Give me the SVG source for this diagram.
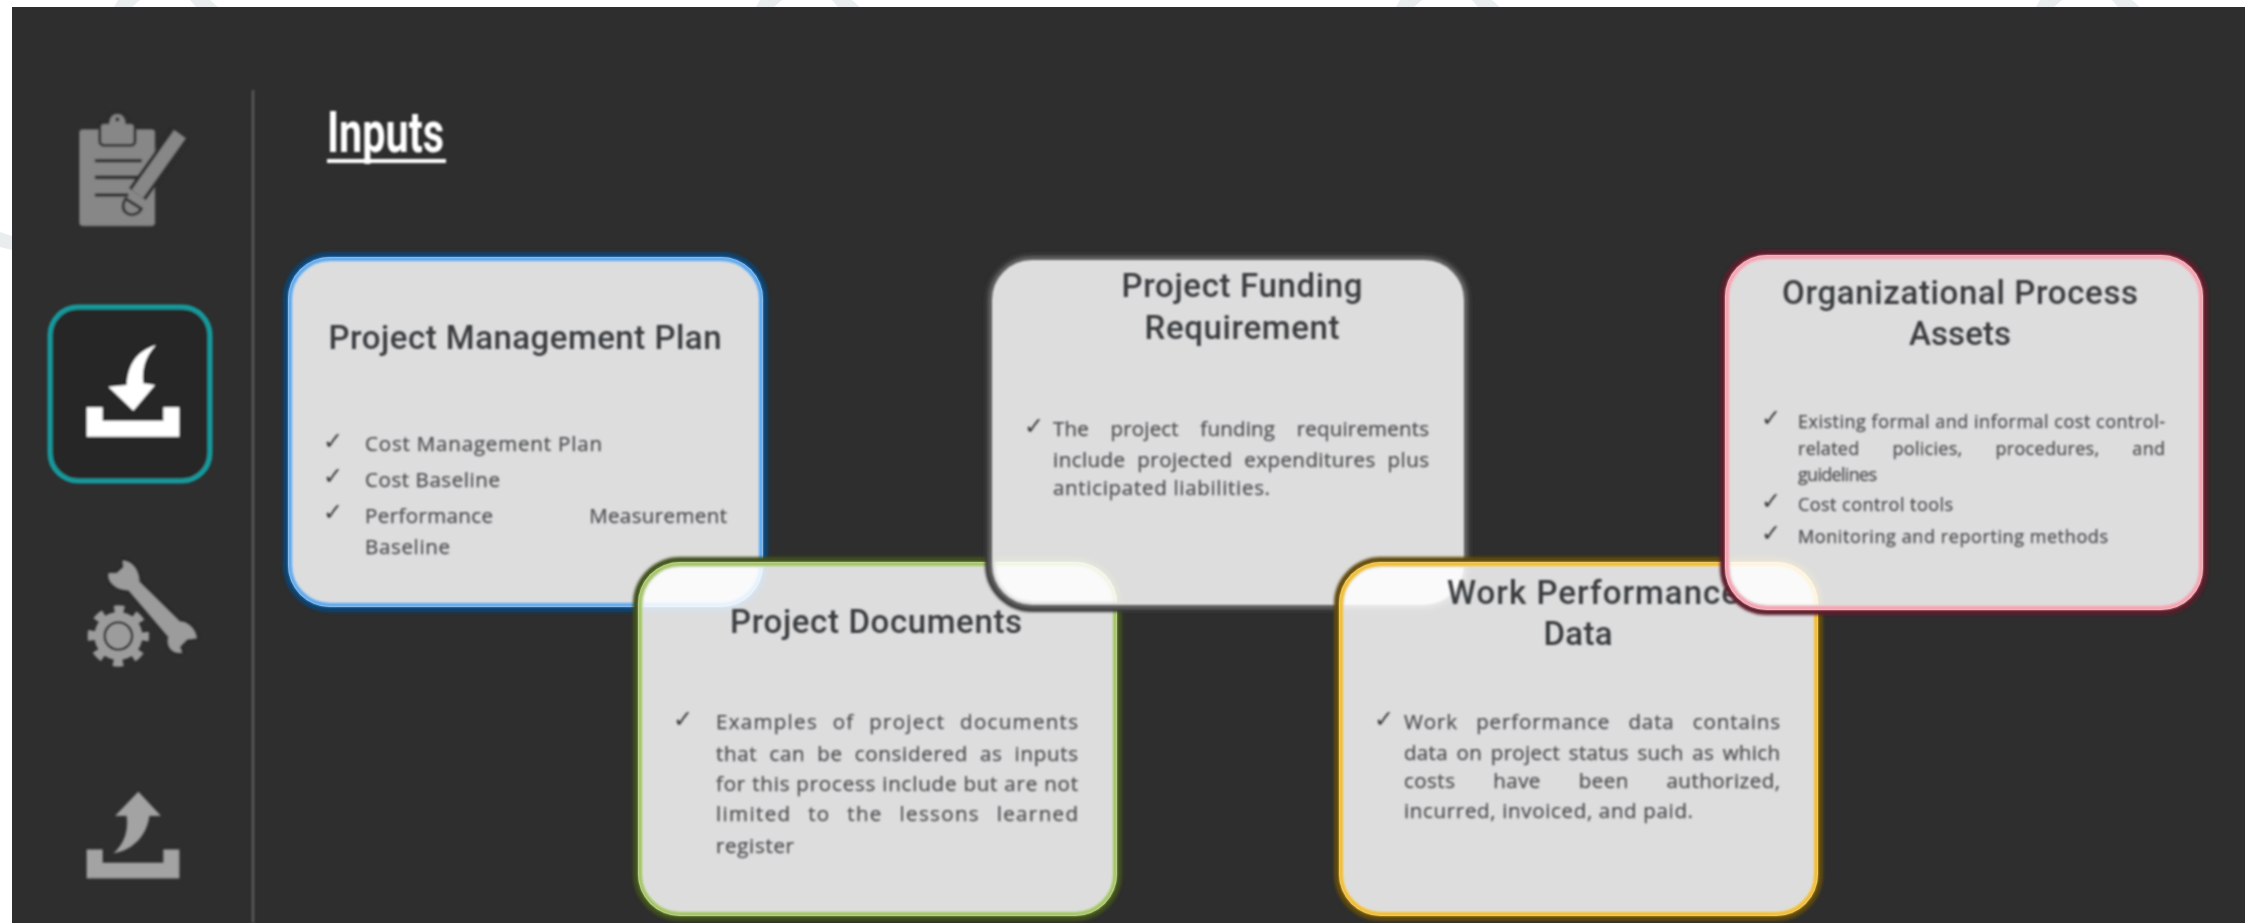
<svg xmlns="http://www.w3.org/2000/svg" width="2252" height="923" viewBox="0 0 2252 923">
<defs>
<filter id="soft" x="-5%" y="-5%" width="110%" height="110%"><feGaussianBlur stdDeviation="0.9"/></filter>
<filter id="glow" x="-5%" y="-5%" width="110%" height="110%"><feGaussianBlur stdDeviation="1.8"/></filter>
<style>
.card{fill:#fff;fill-opacity:.84}
.rim{fill:none;stroke-width:10}
.line{fill:none;stroke-width:4}
.t{font-family:Roboto,"Liberation Sans",sans-serif;font-weight:500;font-size:33px;fill:#3b3d40;text-anchor:middle}
.b{font-family:"Open Sans","Liberation Sans",sans-serif;font-size:20.5px;fill:#4b4d50;stroke:#4b4d50;stroke-width:.25}
.s{font-size:18px}
.c{font-family:"DejaVu Sans",sans-serif;font-size:24px;fill:#3a3a3a}
.g{fill:#878787}
.h{fill:#9c9c9c}
</style>
</defs>
<rect width="2252" height="923" fill="#fff"/>
<g fill="#e9eded" id="watermark">
<path d="M118 0h22l-8 7h-18zM190 0h20l8 7h-22zM760 0h22l-8 7h-18zM832 0h20l8 7h-22zM1400 0h22l-8 7h-18zM1472 0h20l8 7h-22zM2040 0h22l-8 7h-18zM2112 0h20l8 7h-22zM0 232l12 4v14l-12-3z"/>
</g>
<rect id="background" x="12" y="7" width="2233" height="916" fill="#2e2e2e"/>
<g filter="url(#soft)">
<line id="divider" x1="253" y1="90" x2="253" y2="923" stroke="#5a5a5a" stroke-width="2.5"/>

<g id="icon-plan" transform="translate(60 100) scale(.3333)">
<rect class="g" x="58" y="88" width="227" height="290" rx="10"/>
<path d="M105 182h140M105 232h130M105 285h100" stroke="#2e2e2e" stroke-width="10" fill="none"/>
<path d="M132 68h12C146 48 158 38 172 38S198 48 200 68h12a13 13 0 0 1 13 13v42a13 13 0 0 1-13 13H132a13 13 0 0 1-13-13V81a13 13 0 0 1 13-13z" fill="#878787" stroke="#2e2e2e" stroke-width="8"/>
<circle cx="172" cy="58" r="6" fill="#2e2e2e"/>
<path d="M360 102L232 282" stroke="#2e2e2e" stroke-width="62" fill="none"/>
<path d="M360 102L232 282" stroke="#878787" stroke-width="42" fill="none"/>
<path d="M197 296L244 326C236 344 210 350 196 336C186 326 188 308 197 296Z" fill="#878787" stroke="#2e2e2e" stroke-width="8"/>
</g>

<g id="icon-inputs">
<rect x="50" y="307" width="160" height="174" rx="28" fill="#272727" stroke="#179a9c" stroke-width="5"/>
<g transform="translate(60 320) scale(.3333)" fill="#fff">
<path d="M80 262h48v40h182v-40h48v88H80z"/>
<path d="M288 75C230 95 205 130 200 195L145 200L220 272L285 195L250 190C245 150 255 110 288 75Z"/>
</g>
</g>

<g id="icon-tools" transform="translate(60 540) scale(.3333)">
<circle class="h" cx="175" cy="288" r="72"/>
<circle cx="175" cy="288" r="80" fill="none" stroke="#9c9c9c" stroke-width="24" stroke-dasharray="30 32.83" stroke-dashoffset="15"/>
<circle cx="175" cy="288" r="41" fill="none" stroke="#2e2e2e" stroke-width="7"/>
<path d="M188 62C215 62 238 90 238 125L360 245C385 245 408 268 410 295L382 298L360 320L366 338C335 342 318 318 325 290L205 150C170 152 140 125 146 100L170 100L190 82Z" fill="#9c9c9c" stroke="#2e2e2e" stroke-width="10" paint-order="stroke"/>
</g>

<g id="icon-outputs" transform="translate(60 770) scale(.3333)" fill="#a3a3a3">
<path d="M80 238h48v40h182v-40h48v87H80z"/>
<path d="M235 65L303 138H268C262 190 225 240 160 250C195 220 205 180 200 138H165Z"/>
</g>

<text id="heading" x="327" y="152" font-family="Roboto,'Liberation Sans',sans-serif" font-weight="700" font-size="58" fill="#fff" textLength="117" lengthAdjust="spacingAndGlyphs">Inputs</text>
<rect x="327" y="159" width="119" height="4" fill="#fff"/>
</g>

<g id="node-pmp">
<rect class="rim" x="288" y="257" width="475" height="350" rx="42" stroke="#0f4370" filter="url(#glow)"/>
<rect class="card" x="288" y="257" width="475" height="350" rx="42"/>
<rect class="line" x="290" y="259" width="471" height="346" rx="40" stroke="#5da8ee" filter="url(#soft)"/>
<g filter="url(#soft)">
<text class="t" x="525" y="349" textLength="393">Project Management Plan</text>
<text class="c" x="323" y="449">✓</text><text class="c" x="323" y="484">✓</text><text class="c" x="323" y="520">✓</text>
<text class="b" x="365" y="451" textLength="237">Cost Management Plan</text>
<text class="b" x="365" y="487" textLength="135">Cost Baseline</text>
<text class="b" x="365" y="523" word-spacing="90" textLength="362">Performance Measurement</text>
<text class="b" x="365" y="554" textLength="85">Baseline</text>
</g>
</g>

<g id="node-documents">
<rect class="rim" x="638" y="562" width="479" height="354" rx="42" stroke="#41501f" filter="url(#glow)"/>
<rect class="card" x="638" y="562" width="479" height="354" rx="42"/>
<rect class="line" x="640" y="564" width="475" height="350" rx="40" stroke="#a3c562" filter="url(#soft)"/>
<g filter="url(#soft)">
<text class="t" x="876" y="633" textLength="292">Project Documents</text>
<text class="c" x="673" y="727">✓</text>
<text class="b" x="716" y="729" word-spacing="8" textLength="362">Examples of project documents</text>
<text class="b" x="716" y="761" word-spacing="6" textLength="362">that can be considered as inputs</text>
<text class="b" x="716" y="791" textLength="362">for this process include but are not</text>
<text class="b" x="716" y="821" word-spacing="10" textLength="362">limited to the lessons learned</text>
<text class="b" x="716" y="853" textLength="78">register</text>
</g>
</g>

<g id="node-funding">
<rect class="rim" x="990" y="258" width="476" height="349" rx="42" stroke="#3a3a3a" filter="url(#glow)"/>
<rect class="card" x="990" y="258" width="476" height="349" rx="42"/>
<rect class="line" x="990" y="258" width="476" height="349" rx="42" stroke="#5a5a5a" filter="url(#soft)"/>
<g filter="url(#soft)">
<text class="t" x="1242" y="297" textLength="241">Project Funding</text>
<text class="t" x="1242" y="339" textLength="195">Requirement</text>
<text class="c" x="1024" y="434">✓</text>
<text class="b" x="1053" y="436" word-spacing="16" textLength="376">The project funding requirements</text>
<text class="b" x="1053" y="467" word-spacing="6" textLength="376">include projected expenditures plus</text>
<text class="b" x="1053" y="495" textLength="217">anticipated liabilities.</text>
</g>
</g>

<g id="node-work">
<rect class="rim" x="1339" y="562" width="479" height="354" rx="42" stroke="#5f4a10" filter="url(#glow)"/>
<rect class="card" x="1339" y="562" width="479" height="354" rx="42"/>
<rect class="line" x="1341" y="564" width="475" height="350" rx="40" stroke="#f3bd2e" filter="url(#soft)"/>
<g filter="url(#soft)">
<text class="t" x="1593" y="604" textLength="292">Work Performance</text>
<text class="t" x="1578" y="645" textLength="69">Data</text>
<text class="c" x="1374" y="727">✓</text>
<text class="b" x="1404" y="729" word-spacing="12" textLength="376">Work performance data contains</text>
<text class="b" x="1404" y="760" word-spacing="3" textLength="376">data on project status such as which</text>
<text class="b" x="1404" y="788" word-spacing="32" textLength="376">costs have been authorized,</text>
<text class="b" x="1404" y="818" textLength="289">incurred, invoiced, and paid.</text>
</g>
</g>

<g id="node-assets">
<rect class="rim" x="1725" y="255" width="478" height="355" rx="42" stroke="#5a1f2a" filter="url(#glow)"/>
<rect class="card" x="1725" y="255" width="478" height="355" rx="42"/>
<rect class="line" x="1727" y="257" width="474" height="351" rx="40" stroke="#f7a3b0" filter="url(#soft)"/>
<g filter="url(#soft)">
<text class="t" x="1960" y="304" textLength="356">Organizational Process</text>
<text class="t" x="1960" y="345" textLength="102">Assets</text>
<text class="c" x="1761" y="426">✓</text><text class="c" x="1761" y="509">✓</text><text class="c" x="1761" y="541">✓</text>
<text class="b s" x="1798" y="428" textLength="367">Existing formal and informal cost control-</text>
<text class="b s" x="1798" y="455" word-spacing="28" textLength="367">related policies, procedures, and</text>
<text class="b s" x="1798" y="481" textLength="79">guidelines</text>
<text class="b s" x="1798" y="511" textLength="155">Cost control tools</text>
<text class="b s" x="1798" y="543" textLength="310">Monitoring and reporting methods</text>
</g>
</g>
</svg>
